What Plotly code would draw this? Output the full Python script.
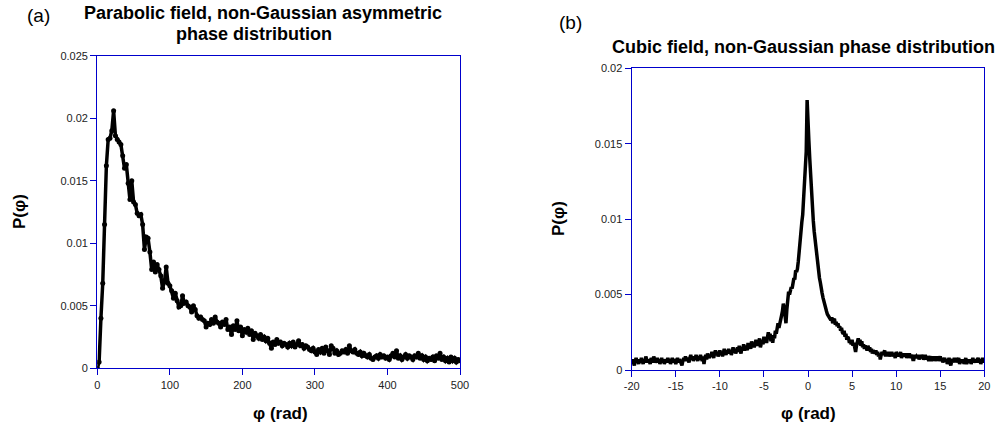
import plotly.graph_objects as go

W, H = 996, 429

# ---------------- Panel (a) data: phi from 0 to 500, step 2.5 ----------------
phi_a = [i * 2.5 for i in range(201)]
p_a = [
    0.0000, 0.0005, 0.0040, 0.0068, 0.0115, 0.0162, 0.0183, 0.0184, 0.0190, 0.0206,
    0.0186, 0.0183, 0.0181, 0.0179, 0.0170, 0.0160, 0.0163, 0.0148, 0.0135, 0.0150,
    0.0133, 0.0131, 0.0124, 0.0122, 0.0123, 0.0115, 0.0095, 0.0105, 0.0104, 0.0093,
    0.0079, 0.0085, 0.0077, 0.0083, 0.0079, 0.0074, 0.0064, 0.0069, 0.0081, 0.0068,
    0.0066, 0.0062, 0.0056, 0.0060, 0.0054, 0.0049, 0.0050, 0.0058, 0.0052, 0.0053,
    0.0050, 0.0049, 0.0045, 0.0050, 0.0047, 0.0042, 0.0040, 0.0041, 0.0039, 0.0038,
    0.0033, 0.0036, 0.0035, 0.0039, 0.0036, 0.0041, 0.0037, 0.0036, 0.0033, 0.0037,
    0.0035, 0.0039, 0.0031, 0.0033, 0.0027, 0.0034, 0.0031, 0.0038, 0.0030, 0.0033,
    0.0026, 0.0031, 0.0029, 0.0032, 0.0027, 0.0030, 0.0023, 0.0028, 0.0026, 0.0024,
    0.0027, 0.0023, 0.0025, 0.0022, 0.0024, 0.0020, 0.0016, 0.0021, 0.0019, 0.0023,
    0.0020, 0.0021, 0.0018, 0.0020, 0.0019, 0.0017, 0.0020, 0.0018, 0.0021, 0.0017,
    0.0019, 0.0022, 0.0018, 0.0019, 0.0016, 0.0018, 0.0017, 0.0015, 0.0014, 0.0016,
    0.0013, 0.0011, 0.0015, 0.0013, 0.0016, 0.0012, 0.0017, 0.0014, 0.0011, 0.0018,
    0.0016, 0.0012, 0.0014, 0.0011, 0.0012, 0.0014, 0.0013, 0.0015, 0.0012, 0.0018,
    0.0014, 0.0013, 0.0015, 0.0012, 0.0011, 0.0013, 0.0010, 0.0012, 0.0010, 0.0009,
    0.0011, 0.0008, 0.0007, 0.0009, 0.0010, 0.0008, 0.0011, 0.0009, 0.0010, 0.0008,
    0.0009, 0.0007, 0.0010, 0.0012, 0.0009, 0.0014, 0.0008, 0.0010, 0.0007, 0.0009,
    0.0011, 0.0008, 0.0010, 0.0009, 0.0007, 0.0010, 0.0009, 0.0012, 0.0008, 0.0010,
    0.0007, 0.0009, 0.0006, 0.0008, 0.0007, 0.0009, 0.0006, 0.0010, 0.0008, 0.0012,
    0.0007, 0.0009, 0.0006, 0.0008, 0.0005, 0.0009, 0.0006, 0.0008, 0.0005, 0.0007,
    0.0006,
]

# ---------------- Panel (b) data: phi from -20 to 20, step 0.1 ----------------
phi_b = [round(-20 + i * 0.1, 1) for i in range(401)]
p_b = [
    0.0004, 0.0007, 0.0005, 0.0003, 0.0006, 0.0008, 0.0005, 0.0006, 0.0004, 0.0007,
    0.0005, 0.0008, 0.0006, 0.0004, 0.0007, 0.0005, 0.0009, 0.0006, 0.0005, 0.0007,
    0.0006, 0.0004, 0.0008, 0.0006, 0.0005, 0.0009, 0.0007, 0.0005, 0.0006, 0.0008,
    0.0005, 0.0007, 0.0004, 0.0006, 0.0008, 0.0005, 0.0007, 0.0004, 0.0006, 0.0007,
    0.0005, 0.0008, 0.0006, 0.0007, 0.0004, 0.0006, 0.0008, 0.0005, 0.0007, 0.0006,
    0.0004, 0.0006, 0.0008, 0.0005, 0.0007, 0.0006, 0.0004, 0.0003, 0.0006, 0.0008,
    0.0006, 0.0009, 0.0006, 0.0008, 0.0007, 0.0005, 0.0008, 0.0010, 0.0007, 0.0009,
    0.0006, 0.0008, 0.0007, 0.0010, 0.0008, 0.0006, 0.0009, 0.0007, 0.0010, 0.0008,
    0.0006, 0.0009, 0.0004, 0.0008, 0.0010, 0.0007, 0.0011, 0.0009, 0.0008, 0.0010,
    0.0009, 0.0012, 0.0010, 0.0008, 0.0011, 0.0013, 0.0010, 0.0012, 0.0009, 0.0011,
    0.0013, 0.0010, 0.0012, 0.0009, 0.0011, 0.0014, 0.0012, 0.0010, 0.0013, 0.0011,
    0.0014, 0.0011, 0.0013, 0.0010, 0.0012, 0.0015, 0.0012, 0.0014, 0.0011, 0.0013,
    0.0015, 0.0012, 0.0016, 0.0013, 0.0011, 0.0015, 0.0014, 0.0017, 0.0013, 0.0015,
    0.0016, 0.0013, 0.0018, 0.0015, 0.0017, 0.0014, 0.0019, 0.0016, 0.0018, 0.0015,
    0.0018, 0.0020, 0.0016, 0.0019, 0.0017, 0.0021, 0.0015, 0.0018, 0.0020, 0.0017,
    0.0022, 0.0019, 0.0021, 0.0018, 0.0023, 0.0025, 0.0021, 0.0024, 0.0019, 0.0022,
    0.0018, 0.0023, 0.0021, 0.0026, 0.0024, 0.0027, 0.0031, 0.0028, 0.0030, 0.0034,
    0.0036, 0.0039, 0.0044, 0.0041, 0.0036, 0.0031, 0.0040, 0.0046, 0.0052, 0.0050,
    0.0053, 0.0055, 0.0054, 0.0057, 0.0061, 0.0060, 0.0066, 0.0065, 0.0067, 0.0072,
    0.0080, 0.0085, 0.0091, 0.0098, 0.0103, 0.0112, 0.0122, 0.0130, 0.0145, 0.0179,
    0.0159, 0.0152, 0.0140, 0.0128, 0.0115, 0.0106, 0.0099, 0.0092, 0.0086, 0.0080,
    0.0075, 0.0071, 0.0066, 0.0061, 0.0058, 0.0053, 0.0051, 0.0048, 0.0045, 0.0042,
    0.0041, 0.0039, 0.0037, 0.0036, 0.0035, 0.0034, 0.0033, 0.0035, 0.0031, 0.0033,
    0.0034, 0.0030, 0.0032, 0.0029, 0.0031, 0.0028, 0.0029, 0.0026, 0.0028, 0.0025,
    0.0024, 0.0026, 0.0022, 0.0024, 0.0020, 0.0022, 0.0021, 0.0018, 0.0020, 0.0017,
    0.0020, 0.0016, 0.0018, 0.0015, 0.0012, 0.0016, 0.0018, 0.0021, 0.0017, 0.0020,
    0.0016, 0.0019, 0.0015, 0.0017, 0.0014, 0.0016, 0.0015, 0.0013, 0.0016, 0.0014,
    0.0015, 0.0012, 0.0014, 0.0011, 0.0013, 0.0012, 0.0011, 0.0013, 0.0010, 0.0012,
    0.0009, 0.0011, 0.0007, 0.0010, 0.0012, 0.0010, 0.0011, 0.0013, 0.0009, 0.0012,
    0.0010, 0.0012, 0.0009, 0.0011, 0.0010, 0.0012, 0.0009, 0.0011, 0.0010, 0.0008,
    0.0012, 0.0010, 0.0009, 0.0011, 0.0010, 0.0012, 0.0008, 0.0010, 0.0009, 0.0011,
    0.0009, 0.0011, 0.0008, 0.0010, 0.0009, 0.0011, 0.0008, 0.0009, 0.0010, 0.0007,
    0.0007, 0.0010, 0.0008, 0.0009, 0.0008, 0.0010, 0.0007, 0.0009, 0.0008, 0.0010,
    0.0009, 0.0007, 0.0008, 0.0010, 0.0007, 0.0009, 0.0008, 0.0006, 0.0008, 0.0009,
    0.0006, 0.0008, 0.0007, 0.0009, 0.0006, 0.0008, 0.0007, 0.0009, 0.0006, 0.0008,
    0.0009, 0.0006, 0.0008, 0.0005, 0.0007, 0.0008, 0.0006, 0.0007, 0.0004, 0.0007,
    0.0008, 0.0005, 0.0003, 0.0006, 0.0007, 0.0005, 0.0008, 0.0006, 0.0008, 0.0005,
    0.0006, 0.0008, 0.0004, 0.0006, 0.0007, 0.0005, 0.0007, 0.0004, 0.0006, 0.0008,
    0.0004, 0.0006, 0.0007, 0.0005, 0.0007, 0.0004, 0.0006, 0.0008, 0.0005, 0.0007,
    0.0007, 0.0005, 0.0006, 0.0008, 0.0005, 0.0007, 0.0004, 0.0006, 0.0008, 0.0005,
    0.0007,
]

ticks_a_x = [0, 100, 200, 300, 400, 500]
ticks_a_y = [0, 0.005, 0.01, 0.015, 0.02, 0.025]
ticklab_a_y = ["0", "0.005", "0.01", "0.015", "0.02", "0.025"]
ticks_b_x = [-20, -15, -10, -5, 0, 5, 10, 15, 20]
ticklab_b_x = ["-20", "-15", "-10", "-5", "0", "5", "10", "15", "20"]
ticks_b_y = [0, 0.005, 0.01, 0.015, 0.02]
ticklab_b_y = ["0", "0.005", "0.01", "0.015", "0.02"]

FONT = "Liberation Sans, Arial, sans-serif"
BLUE = "#0000cc"

fig = go.Figure()
fig.add_trace(go.Scatter(x=phi_a, y=p_a, mode="lines+markers",
                         line=dict(color="black", width=3.5),
                         marker=dict(color="black", size=5),
                         xaxis="x", yaxis="y", showlegend=False, hoverinfo="skip"))
fig.add_trace(go.Scatter(x=phi_b, y=p_b, mode="lines",
                         line=dict(color="black", width=3.5),
                         xaxis="x2", yaxis="y2", showlegend=False, hoverinfo="skip"))

def px_x(p):
    return p / W

def px_y(p):
    return 1 - p / H

axis_common = dict(showline=True, linecolor=BLUE, linewidth=1.3, mirror=True,
                   ticks="outside", tickcolor=BLUE, ticklen=6, tickwidth=1.3,
                   showgrid=False, zeroline=False, automargin=False,
                   tickfont=dict(family=FONT, size=11, color="#222222"))

fig.update_layout(
    width=W, height=H,
    margin=dict(l=0, r=0, t=0, b=0, pad=0),
    paper_bgcolor="white", plot_bgcolor="white",
    font=dict(family=FONT),
    xaxis=dict(domain=[px_x(97.3), px_x(460)], range=[0, 500],
               tickvals=ticks_a_x, anchor="y", **axis_common),
    yaxis=dict(domain=[px_y(368.3), px_y(55.7)], range=[0, 0.025],
               tickvals=ticks_a_y, ticktext=ticklab_a_y, anchor="x", **axis_common),
    xaxis2=dict(domain=[px_x(631.7), px_x(984.3)], range=[-20, 20],
                tickvals=ticks_b_x, ticktext=ticklab_b_x, anchor="y2", **axis_common),
    yaxis2=dict(domain=[px_y(370), px_y(68.3)], range=[0, 0.02],
                tickvals=ticks_b_y, ticktext=ticklab_b_y, anchor="x2", **axis_common),
)

def ann(text, x, y, size, bold=False, angle=0):
    fig.add_annotation(text=f"<b>{text}</b>" if bold else text,
                       x=px_x(x), y=px_y(y), xref="paper", yref="paper",
                       xanchor="center", yanchor="middle", showarrow=False,
                       textangle=angle,
                       font=dict(family=FONT, size=size, color="black"))

ann("(a)", 38, 16, 19)
ann("(b)", 570, 23, 19)
ann("Parabolic field, non-Gaussian asymmetric", 263, 13, 18, bold=True)
ann("phase distribution", 253.5, 34, 18, bold=True)
ann("Cubic field, non-Gaussian phase distribution", 803, 47, 18, bold=True)
ann("φ (rad)", 280, 413, 17, bold=True)
ann("φ (rad)", 808, 413, 17, bold=True)
ann("P(φ)", 20, 212, 17, bold=True, angle=-90)
ann("P(φ)", 558, 219, 17, bold=True, angle=-90)

fig.write_html("out.html",
               config={"displayModeBar": False},
               post_script="document.body.style.margin='0';document.body.style.overflow='hidden';")
